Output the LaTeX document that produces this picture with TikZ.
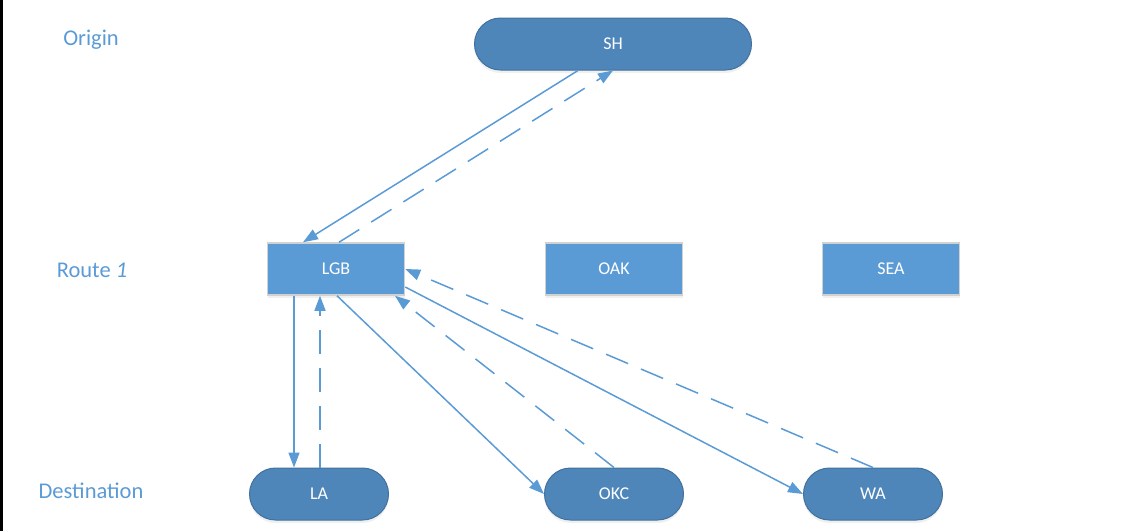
\documentclass[tikz,border=0pt]{standalone}
\usepackage{fontspec}
\setmainfont{Carlito}
\usepackage{xcolor}
\usepackage{tikz}
\usetikzlibrary{arrows.meta,shadows}
\definecolor{linkblue}{HTML}{5B9BD5}
\definecolor{capblue}{HTML}{4E86BA}
\definecolor{capedge}{HTML}{41719C}

\begin{document}
\begin{tikzpicture}[x=1pt,y=-1pt,
        endport/.style={draw=capedge, line width=1pt, fill=capblue, rounded corners=26pt,
            minimum width=139pt, minimum height=52pt, text=white,
            font=\fontsize{18}{21}\selectfont,
            drop shadow={shadow xshift=0pt, shadow yshift=-3pt, opacity=0.12}},
        hub/.style={draw=black!18, line width=1.5pt, fill=linkblue,
            minimum width=137pt, minimum height=52pt, text=white,
            font=\fontsize{18}{21}\selectfont,
            drop shadow={shadow xshift=0pt, shadow yshift=-3pt, opacity=0.12}},
        tier/.style={text=linkblue, font=\fontsize{22.5}{26}\selectfont},
        fwd/.style={draw=linkblue, line width=1.5pt, -{Triangle[length=15pt,width=11pt]}},
        rtn/.style={fwd, dash pattern=on 24pt off 14pt}]
        \useasboundingbox (0,0) rectangle (1134,531);
        \draw[line width=2.5pt] (1.25,0) -- (1.25,531);

        % row labels
        \node[tier] (origin) at (91,40) {Origin};
        \node[tier] (route) at (92,270) {Route \textit{1}};
        \node[tier] (dest) at (91,491) {Destination};

        % ports
        \node[endport, minimum width=277pt] (SH) at (613,44) {SH};
        \node[hub] (LGB) at (336,269) {LGB};
        \node[hub] (OAK) at (614,269) {OAK};
        \node[hub] (SEA) at (891,269) {SEA};
        \node[endport] (LA) at (319,494) {LA};
        \node[endport] (OKC) at (614,494) {OKC};
        \node[endport] (WA) at (873,494) {WA};

        % legs
        \draw[fwd] ([xshift=-35pt]SH.south) -- ([xshift=-33pt]LGB.north);
        \draw[rtn] ([xshift=3pt]LGB.north) -- (SH.south);
        \draw[fwd] ([xshift=-42pt]LGB.south) -- ([xshift=-25pt]LA.north);
        \draw[rtn] ([xshift=1pt]LA.north) -- ([xshift=-16pt]LGB.south);
        \draw[fwd] ([xshift=1pt]LGB.south) -- (OKC.west);
        \draw[rtn] (OKC.north) -- ([xshift=59pt]LGB.south);
        \draw[fwd] ([yshift=-18pt]LGB.east) -- (WA.west);
        \draw[rtn] (WA.north) -- (LGB.east);
    \end{tikzpicture}
\end{document}
